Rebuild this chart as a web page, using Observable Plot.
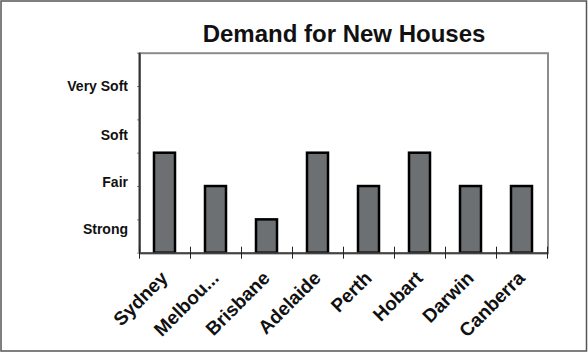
<!DOCTYPE html>
<html>
<head>
<meta charset="utf-8">
<script src="https://cdn.jsdelivr.net/npm/d3@7"></script>
<script src="https://cdn.jsdelivr.net/npm/@observablehq/plot@0.6"></script>
<style>
  html, body { margin: 0; padding: 0; background: #fff; }
  #chart { width: 588px; height: 352px; overflow: hidden; }
  #chart svg { display: block; }
</style>
</head>
<body>
<div id="chart"></div>
<script>
const title = "Demand for New Houses";
const cities = ["Sydney", "Melbou...", "Brisbane", "Adelaide", "Perth", "Hobart", "Darwin", "Canberra"];
const demand = [3, 2, 1, 3, 2, 3, 2, 2];
const levelLabels = ["Strong", "Fair", "Soft", "Very Soft"];
const levelValues = [0.72, 2.13, 3.52, 5.0];
const yTicks = [0, 1, 2, 3, 4, 5, 6];

const data = cities.map((city, i) => ({city, demand: demand[i]}));

const W = 588, H = 352;
const mL = 139.5, mR = 40.5, mT = 52.7, mB = 99.3;
const step = (W - mL - mR) / cities.length;

const chart = Plot.plot({
  width: W,
  height: H,
  marginLeft: mL,
  marginRight: mR,
  marginTop: mT,
  marginBottom: mB,
  style: {fontFamily: "'Liberation Sans', Arial, sans-serif", background: "#fff", color: "#111"},
  x: {type: "band", domain: cities, paddingInner: 0.58, paddingOuter: 0.29, axis: null, label: null},
  y: {domain: [0, 6], axis: null, label: null},
  marks: [
    Plot.frame({stroke: "#8c8c8c", strokeWidth: 2}),
    Plot.barY(data, {x: "city", y: "demand", fill: "#6d7073", stroke: "#000", strokeWidth: 2.5}),
    Plot.axisY(yTicks, {tickSize: 2.5, tickFormat: () => "", stroke: "#888", label: null}),
    Plot.axisY(levelValues, {tickSize: 0, tickPadding: 12, tickFormat: (d, i) => levelLabels[i], fontSize: 14, fontWeight: "bold", fill: "#111", label: null}),
    Plot.ruleX([cities[0]], {x: d => d, dx: -step / 2, stroke: "#333", strokeWidth: 2}),
    Plot.ruleY([0], {stroke: "#444", strokeWidth: 2}),
    Plot.ruleX(cities, {x: d => d, dx: -step / 2, y1: 0, y2: 0, insetTop: 6, insetBottom: 6, stroke: "#222", strokeWidth: 1}),
    Plot.ruleX([cities[cities.length - 1]], {x: d => d, dx: step / 2, y1: 0, y2: 0, insetTop: 6, insetBottom: 6, stroke: "#222", strokeWidth: 1}),
    Plot.text(cities, {x: d => d, text: d => d, frameAnchor: "bottom", rotate: -45, textAnchor: "end", lineAnchor: "bottom", dx: 4, dy: 26, fontSize: 19, fontWeight: "bold", fill: "#111"}),
    Plot.text([title], {frameAnchor: "top", lineAnchor: "bottom", dy: -11, fontSize: 24, fontWeight: "bold", fill: "#111"})
  ]
});

document.getElementById("chart").appendChild(chart);
d3.select(chart).append("rect")
  .attr("x", 1).attr("y", 1).attr("width", W - 2.5).attr("height", H - 2)
  .attr("fill", "none").attr("stroke", "#555").attr("stroke-width", 1.5);
</script>
</body>
</html>
